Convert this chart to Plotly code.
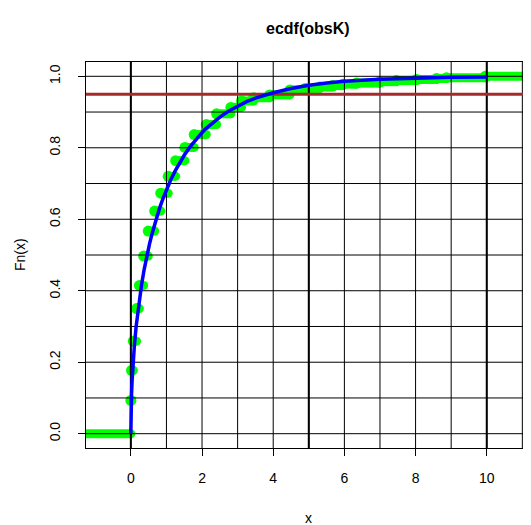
import plotly.graph_objects as go

# ---------------- data ----------------
# ECDF knots (jump locations) and the level reached at each knot
knot_x = [0.00, 0.02, 0.07, 0.16, 0.24, 0.36, 0.49, 0.67, 0.84, 1.05,
          1.26, 1.52, 1.78, 2.12, 2.41, 2.81, 3.11, 3.45, 3.90, 4.47,
          4.90, 5.31, 5.67, 5.96, 6.34, 7.00, 7.46, 8.03, 8.59, 8.87, 9.96]
knot_F = [0.093, 0.177, 0.259, 0.350, 0.415, 0.497, 0.567, 0.623, 0.673, 0.720,
          0.764, 0.801, 0.837, 0.865, 0.895, 0.913, 0.931, 0.940, 0.948, 0.962,
          0.966, 0.970, 0.974, 0.978, 0.981, 0.985, 0.988, 0.991, 0.994, 0.996, 1.000]

# blue reference curve
curve_x = [0.0, 0.001, 0.003, 0.005, 0.01, 0.02, 0.035, 0.05, 0.075, 0.1,
           0.15, 0.2, 0.25, 0.3, 0.375, 0.45, 0.525, 0.6, 0.7, 0.8,
           0.9, 1.0, 1.125, 1.25, 1.375, 1.5, 1.65, 1.8, 1.95, 2.1,
           2.3, 2.5, 2.75, 3.0, 3.25, 3.5, 3.75, 4.0, 4.5, 5.0,
           5.5, 6.0, 7.0, 8.0, 9.0, 10.0]
curve_y = [0.000, 0.025, 0.044, 0.056, 0.080, 0.112, 0.148, 0.177, 0.216, 0.248,
           0.301, 0.345, 0.383, 0.416, 0.460, 0.498, 0.531, 0.561, 0.597, 0.629,
           0.657, 0.683, 0.711, 0.736, 0.759, 0.779, 0.801, 0.820, 0.837, 0.853,
           0.870, 0.886, 0.903, 0.917, 0.929, 0.939, 0.947, 0.954, 0.966, 0.975,
           0.981, 0.986, 0.992, 0.995, 0.997, 0.998]

ref_level = 0.95
grid_v = [0, 1, 2, 3, 4, 5, 6, 7, 8, 9, 10, 11]
grid_v_thick = [0, 5, 10]
grid_h = [0.0, 0.1, 0.2, 0.3, 0.4, 0.5, 0.6, 0.7, 0.8, 0.9, 1.0]
x_ticks = [0, 2, 4, 6, 8, 10]
y_ticks = [0.0, 0.2, 0.4, 0.6, 0.8, 1.0]
y_tick_text = ["0.0", "0.2", "0.4", "0.6", "0.8", "1.0"]

x_range = [-1.26, 11.215]
y_range = [-0.04, 1.04]

FONT = "Liberation Sans, Arial, Helvetica, sans-serif"
GREEN = "#00FF00"

# ---------------- build ----------------
fig = go.Figure()

# ECDF horizontal segments
seg_x, seg_y = [], []
ends_x, ends_y = [], []
starts = [x_range[0] - 1] + knot_x
ends = knot_x + [x_range[1] + 1]
levels = [0.0] + knot_F
for a, b, lv in zip(starts, ends, levels):
    seg_x += [a, b, None]
    seg_y += [lv, lv, None]
    ends_x.append(b)
    ends_y.append(lv)

fig.add_trace(go.Scatter(x=seg_x, y=seg_y, mode="lines",
                         line=dict(color=GREEN, width=9),
                         hoverinfo="skip", showlegend=False))
# round caps at segment ends
fig.add_trace(go.Scatter(x=ends_x, y=ends_y, mode="markers",
                         marker=dict(color=GREEN, size=9, line=dict(width=0)),
                         hoverinfo="skip", showlegend=False))
# points at the knots
fig.add_trace(go.Scatter(x=knot_x, y=knot_F, mode="markers",
                         marker=dict(color=GREEN, size=11, line=dict(width=0)),
                         showlegend=False))

# grid lines
gx, gy = [], []
for v in grid_v:
    gx += [v, v, None]
    gy += [y_range[0] - 1, y_range[1] + 1, None]
for h in grid_h:
    gx += [x_range[0] - 1, x_range[1] + 1, None]
    gy += [h, h, None]
fig.add_trace(go.Scatter(x=gx, y=gy, mode="lines",
                         line=dict(color="black", width=1),
                         hoverinfo="skip", showlegend=False))
tx, ty = [], []
for v in grid_v_thick:
    tx += [v, v, None]
    ty += [y_range[0] - 1, y_range[1] + 1, None]
fig.add_trace(go.Scatter(x=tx, y=ty, mode="lines",
                         line=dict(color="black", width=2),
                         hoverinfo="skip", showlegend=False))

# reference level
fig.add_trace(go.Scatter(x=[x_range[0] - 1, x_range[1] + 1], y=[ref_level, ref_level],
                         mode="lines", line=dict(color="#A52A2A", width=3),
                         hoverinfo="skip", showlegend=False))

# blue curve
fig.add_trace(go.Scatter(x=curve_x, y=curve_y, mode="lines",
                         line=dict(color="#0000FF", width=3.5),
                         showlegend=False))

axis_common = dict(showgrid=False, zeroline=False, showline=True, mirror=True,
                   linecolor="black", linewidth=1, ticks="outside", ticklen=7,
                   tickcolor="black", tickwidth=1,
                   tickfont=dict(family=FONT, size=14, color="black"))

fig.update_xaxes(range=x_range, tickvals=x_ticks,
                 ticktext=[str(v) for v in x_ticks],
                 ticklabelstandoff=10, **axis_common)
fig.update_yaxes(range=y_range, tickvals=y_ticks, ticktext=y_tick_text,
                 tickangle=-90, ticklabelstandoff=12, **axis_common)

# the page body adds an 8px offset; figure is sized/margined to compensate
fig.update_layout(
    width=523, height=517,
    margin=dict(l=78, r=1, t=54, b=77),
    paper_bgcolor="white", plot_bgcolor="white",
    font=dict(family=FONT, size=14, color="black"),
    annotations=[
        dict(text="<b>ecdf(obsK)</b>", xref="paper", yref="paper",
             x=0.5, y=1.0855, xanchor="center", yanchor="middle",
             showarrow=False, font=dict(family=FONT, size=16, color="black")),
        dict(text="x", xref="paper", yref="paper",
             x=0.5, y=-0.181, xanchor="center", yanchor="middle",
             showarrow=False, font=dict(family=FONT, size=14, color="black")),
        dict(text="Fn(x)", xref="paper", yref="paper",
             x=-0.1486, y=0.5, xanchor="center", yanchor="middle", textangle=-90,
             showarrow=False, font=dict(family=FONT, size=14, color="black")),
    ],
)

fig.write_html("out.html")
